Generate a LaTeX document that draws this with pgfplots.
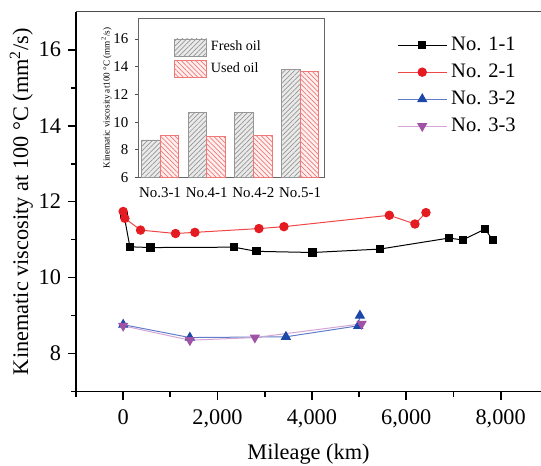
\documentclass[border=0pt]{standalone}
\usepackage{pgfplots}
\pgfplotsset{compat=1.18}
\usepackage{fontspec}
\setmainfont{Liberation Serif}
\newfontfamily\serif{Liberation Serif}
\usetikzlibrary{patterns.meta}

\definecolor{cA}{RGB}{0,0,0}
\definecolor{cB}{RGB}{228,28,34}
\definecolor{cBl}{RGB}{240,70,70}
\definecolor{cC}{RGB}{28,72,170}
\definecolor{cCl}{RGB}{95,125,200}
\definecolor{cD}{RGB}{160,82,165}
\definecolor{cDl}{RGB}{212,165,212}
\definecolor{freshedge}{RGB}{150,150,150}
\definecolor{freshfill}{RGB}{234,234,234}
\definecolor{usededge}{RGB}{240,120,120}
\definecolor{usedfill}{RGB}{255,240,240}

\begin{document}
\begin{tikzpicture}
\useasboundingbox (-38bp,-37.25bp) rectangle (232.5bp,195.75bp);

% main chart: viscosity against mileage
\begin{axis}[
  at={(0,0)}, anchor=south west,
  scale only axis, width=232.5bp, height=189.9bp,
  xmin=-1000, xmax=8855, ymin=7, ymax=17,
  axis x line*=bottom, axis y line*=left,
  axis line style={line width=0.9bp},
  xtick={0,2000,4000,6000,8000}, minor xtick={-1000,1000,3000,5000,7000},
  ytick={8,10,12,14,16}, minor ytick={7,9,11,13,15},
  tick align=outside,
  major tick length=4bp, minor tick length=2.5bp,
  tick style={line width=0.9bp, black},
  /pgf/number format/assume math mode=true,
  /pgf/number format/1000 sep={,},
  xticklabel style={font=\serif\fontsize{11.2}{13}\selectfont, yshift=-1.5bp},
  yticklabel style={font=\serif\fontsize{11.2}{13}\selectfont},
  xlabel style={font=\serif\fontsize{11.2}{13}\selectfont},
  ylabel style={font=\serif\fontsize{11.2}{13}\selectfont},
  xlabel shift=1.5bp, ylabel shift=-4bp,
  xlabel={Mileage (km)},
  ylabel={Kinematic viscosity at 100 °C (mm\textsuperscript{2}/s)},
  legend style={at={(rel axis cs:0.69,0.945)}, anchor=north west, draw=none, fill=none,
    font=\serif\fontsize{10.3}{12}\selectfont, row sep=1.2bp, inner sep=0pt},
  legend cell align=left,
  legend image code/.code={\draw[#1, mark repeat=2, mark phase=2] plot coordinates {(0bp,0bp)(12.25bp,0bp)(24.5bp,0bp)};},
]
\draw[black!70, line width=0.6bp] (rel axis cs:0,1) -- (rel axis cs:1,1);

\addplot[cA, line width=0.5bp, mark=square*, mark size=1.8bp, mark options={fill=cA, draw=cA}]
  coordinates {(18,11.64)(142,10.81)(580,10.79)(2347,10.80)(2827,10.69)(4014,10.66)(5441,10.75)(6905,11.04)(7195,10.99)(7675,11.28)(7830,10.98)};
\addlegendentry{No. 1-1}

\addplot[cBl, line width=0.5bp, mark=*, mark size=2.1bp, mark options={fill=cB, draw=cB}]
  coordinates {(0,11.74)(36,11.56)(368,11.25)(1110,11.16)(1520,11.19)(2877,11.29)(3407,11.34)(5640,11.64)(6184,11.41)(6417,11.71)};
\addlegendentry{No. 2-1}

\addplot[cCl, line width=0.5bp, mark=triangle*, mark size=2.5bp, mark options={fill=cC, draw=cC}]
  coordinates {(0,8.76)(1413,8.42)(3449,8.44)(4982,8.73)(5017,9.00)};
\addlegendentry{No. 3-2}

\addplot[cDl, line width=0.5bp, mark=triangle*, mark size=2.5bp, mark options={fill=cD, draw=cD, rotate=180}]
  coordinates {(0,8.73)(1413,8.35)(2791,8.42)(5053,8.78)};
\addlegendentry{No. 3-3}
\end{axis}

% inset: fresh versus used oil
\begin{axis}[
  at={(31.15bp,106.9bp)}, anchor=south west,
  scale only axis, width=93.35bp, height=79.7bp,
  xmin=-0.465, xmax=3.533, ymin=6, ymax=17.5,
  ybar=0pt, bar width=0.4,
  axis line style={black!60, line width=0.5bp},
  axis background/.style={fill=white},
  xtick={0,1,2,3}, xticklabels={No.3-1,No.4-1,No.4-2,No.5-1},
  x tick style={draw=none},
  ytick={6,8,10,12,14,16}, y tick style={black!70, line width=0.5bp},
  tick align=outside, major tick length=1.5bp,
  xtick pos=bottom, ytick pos=left,
  tick label style={font=\serif\fontsize{7.5}{8.5}\selectfont},
  /pgf/number format/assume math mode=true,
  ylabel={Kinematic viscosity at100 °C (mm\textsuperscript{2}/s)},
  ylabel style={font=\serif\fontsize{4.6}{5.5}\selectfont},
  ylabel shift=-6bp,
  legend style={at={(rel axis cs:0.19,0.885)}, anchor=north west, draw=none, fill=none,
    font=\serif\fontsize{7.1}{8}\selectfont, row sep=0.5bp, inner sep=0pt},
  legend cell align=left,
  legend image code/.code={\draw[#1] (0bp,-4.25bp) rectangle (16bp,4.25bp);},
]
\addplot[draw=freshedge, line width=0.4bp, fill=freshfill,
  postaction={pattern={Lines[angle=45,distance=1.7bp,line width=0.35bp]}, pattern color=freshedge}]
  coordinates {(0,8.72)(1,10.71)(2,10.71)(3,13.84)};
\addlegendentry{Fresh oil}
\addplot[draw=usededge, line width=0.4bp, fill=usedfill,
  postaction={pattern={Lines[angle=-45,distance=1.7bp,line width=0.35bp]}, pattern color=usededge}]
  coordinates {(0,9.08)(1,9.00)(2,9.08)(3,13.69)};
\addlegendentry{Used oil}
\end{axis}
\end{tikzpicture}
\end{document}
